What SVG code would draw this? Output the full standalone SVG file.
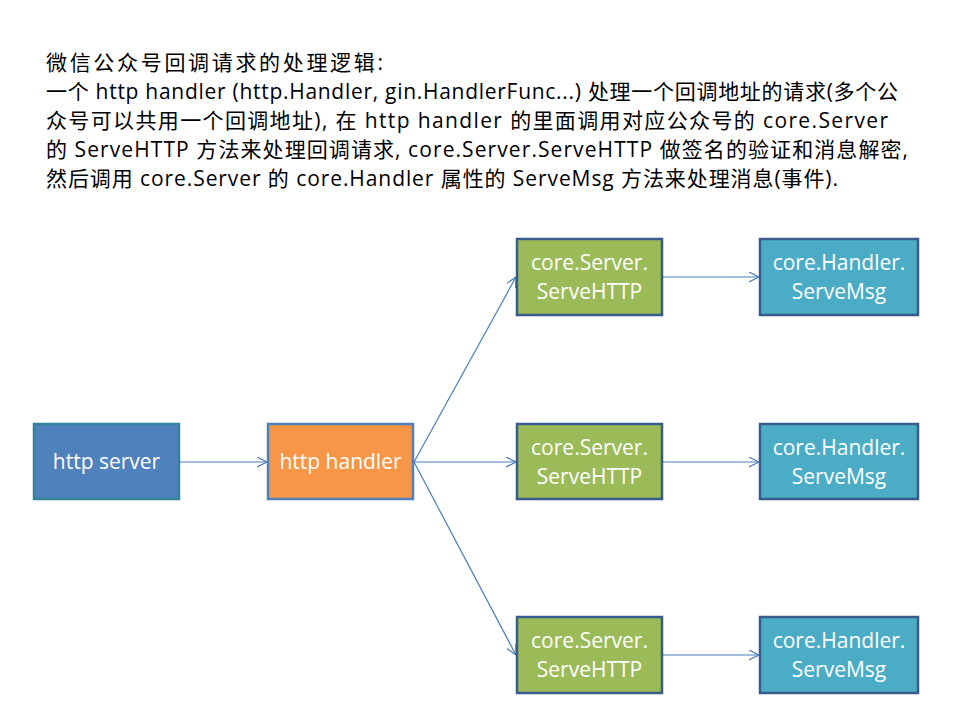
<svg xmlns="http://www.w3.org/2000/svg" width="960" height="720" viewBox="0 0 960 720">
<defs>
<style>
.hdr{font-family:"Open Sans","Noto Sans CJK SC",sans-serif;font-size:21px;fill:#000}
.lbl{font-family:"Open Sans","Noto Sans CJK SC",sans-serif;font-size:21px;fill:#fff;text-anchor:middle}
.edge{stroke:#4A7EBB;stroke-width:1.2;fill:none;marker-end:url(#arr)}
.srv{fill:#4F81BD;stroke:#31849B;stroke-width:2.5}
.hnd{fill:#F79646;stroke:#4F81BD;stroke-width:2.5}
.cs{fill:#9BBB59;stroke:#385D8A;stroke-width:2.5}
.ch{fill:#4BACC6;stroke:#385D8A;stroke-width:2.5}
</style>
<marker id="arr" markerWidth="12" markerHeight="12" refX="10" refY="5" orient="auto" markerUnits="userSpaceOnUse">
<path d="M0,0 L10,5 L0,10" fill="none" stroke="#4A7EBB" stroke-width="1.2"/>
</marker>
</defs>
<rect width="960" height="720" fill="#fff"/>
<g id="header">
<text class="hdr" x="46" y="70" textLength="337" lengthAdjust="spacing">微信公众号回调请求的处理逻辑:</text>
<text class="hdr" x="46" y="99" textLength="852" lengthAdjust="spacing">一个 http handler (http.Handler, gin.HandlerFunc...) 处理一个回调地址的请求(多个公</text>
<text class="hdr" x="46" y="128" textLength="842" lengthAdjust="spacing">众号可以共用一个回调地址), 在 http handler 的里面调用对应公众号的 core.Server</text>
<text class="hdr" x="46" y="157" textLength="862" lengthAdjust="spacing">的 ServeHTTP 方法来处理回调请求, core.Server.ServeHTTP 做签名的验证和消息解密,</text>
<text class="hdr" x="46" y="186" textLength="792" lengthAdjust="spacing">然后调用 core.Server 的 core.Handler 属性的 ServeMsg 方法来处理消息(事件).</text>
</g>
<g id="connectors">
<line class="edge" x1="180" y1="462" x2="267" y2="462"/>
<line class="edge" x1="414" y1="462" x2="516" y2="277"/>
<line class="edge" x1="414" y1="462" x2="516" y2="462"/>
<line class="edge" x1="414" y1="462" x2="516" y2="655"/>
<line class="edge" x1="663" y1="277" x2="759" y2="277"/>
<line class="edge" x1="663" y1="462" x2="759" y2="462"/>
<line class="edge" x1="663" y1="655" x2="759" y2="655"/>
</g>
<g id="http-server">
<rect class="srv" x="34" y="424" width="145" height="75"/>
<text class="lbl" x="106.5" y="469">http server</text>
</g>
<g id="http-handler">
<rect class="hnd" x="268" y="424" width="145" height="75"/>
<text class="lbl" x="340.5" y="469">http handler</text>
</g>
<g id="server-1">
<rect class="cs" x="517" y="239" width="145" height="76"/>
<text class="lbl" x="589.5" y="270">core.Server.</text>
<text class="lbl" x="589.5" y="299">ServeHTTP</text>
</g>
<g id="server-2">
<rect class="cs" x="517" y="424" width="145" height="75"/>
<text class="lbl" x="589.5" y="455">core.Server.</text>
<text class="lbl" x="589.5" y="484">ServeHTTP</text>
</g>
<g id="server-3">
<rect class="cs" x="517" y="617" width="145" height="76"/>
<text class="lbl" x="589.5" y="648">core.Server.</text>
<text class="lbl" x="589.5" y="677">ServeHTTP</text>
</g>
<g id="handler-1">
<rect class="ch" x="760" y="239" width="158" height="76"/>
<text class="lbl" x="839" y="270">core.Handler.</text>
<text class="lbl" x="839" y="299">ServeMsg</text>
</g>
<g id="handler-2">
<rect class="ch" x="760" y="424" width="158" height="75"/>
<text class="lbl" x="839" y="455">core.Handler.</text>
<text class="lbl" x="839" y="484">ServeMsg</text>
</g>
<g id="handler-3">
<rect class="ch" x="760" y="617" width="158" height="76"/>
<text class="lbl" x="839" y="648">core.Handler.</text>
<text class="lbl" x="839" y="677">ServeMsg</text>
</g>
</svg>
